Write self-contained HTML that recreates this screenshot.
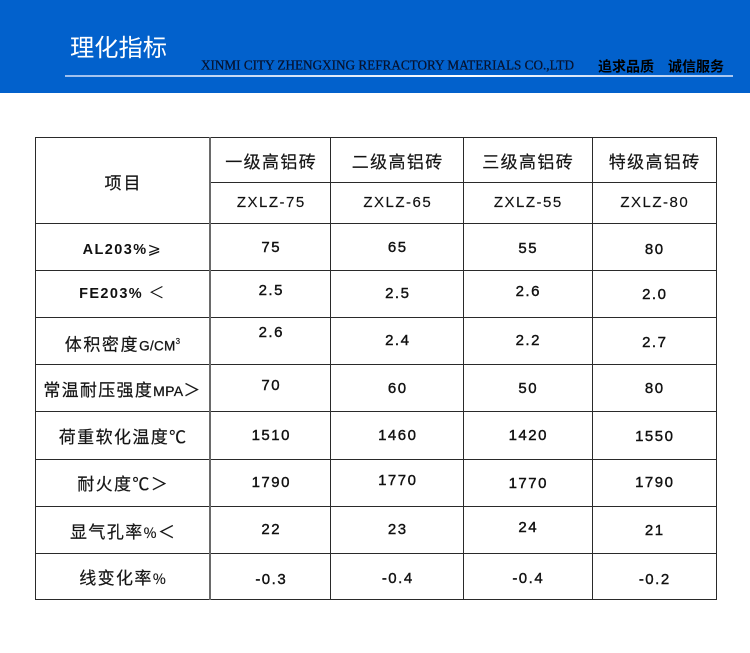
<!DOCTYPE html>
<html><head><meta charset="utf-8">
<style>
html,body{margin:0;padding:0;}
body{width:750px;height:653px;background:#fff;position:relative;overflow:hidden;font-family:"Liberation Sans","Noto Sans CJK SC",sans-serif;}
.hd{position:absolute;left:0;top:0;width:750px;height:93px;background:#0261cc;}
.h{position:absolute;background:#2a2a2a;height:1px;}
.v{position:absolute;background:#2a2a2a;width:1px;top:137px;height:463px;}
.t{position:absolute;height:20px;line-height:20px;text-align:center;white-space:nowrap;color:#111;}
.cn{font-family:"Noto Sans CJK SC","WenQuanYi Zen Hei",sans-serif;font-size:17px;letter-spacing:1.4px;text-indent:1.4px;color:#151515;-webkit-text-stroke:0.2px #151515;}
.num{font-family:"Liberation Sans",sans-serif;font-size:15px;letter-spacing:1.5px;text-indent:1.5px;-webkit-text-stroke:0.4px #111;}
.c0{left:35px;width:175px;}
.c1{left:210px;width:121px;}
.c2{left:331px;width:132px;}
.c3{left:463px;width:129px;}
.c4{left:592px;width:124px;}
.b{font-family:"Liberation Sans",sans-serif;font-weight:bold;font-size:14.5px;letter-spacing:1.4px;}
.s{font-family:"Liberation Sans",sans-serif;font-size:14px;letter-spacing:0.3px;-webkit-text-stroke:0.3px #151515;}
.w{font-family:"Noto Sans CJK SC",sans-serif;font-weight:normal;}
</style></head>
<body>
<div class="hd"></div>
<svg style="position:absolute;left:0;top:0" width="750" height="93" xmlns="http://www.w3.org/2000/svg">
  <defs>
    <linearGradient id="lg" x1="0" x2="1" y1="0" y2="0">
      <stop offset="0" stop-color="#9ebfee"/>
      <stop offset="0.6" stop-color="#ffffff"/>
      <stop offset="1" stop-color="#a8c6f0"/>
    </linearGradient>
  </defs>
  <text x="70" y="56" font-family="Noto Sans CJK SC, WenQuanYi Zen Hei, sans-serif" font-size="24" fill="#ffffff" textLength="97" lengthAdjust="spacingAndGlyphs">理化指标</text>
  <text x="201" y="69.5" font-family="Liberation Serif, serif" font-size="13.5" fill="#06122e" stroke="#06122e" stroke-width="0.25" textLength="373" lengthAdjust="spacingAndGlyphs">XINMI CITY ZHENGXING REFRACTORY MATERIALS CO.,LTD</text>
  <text x="598" y="71.5" font-family="Noto Sans CJK SC, WenQuanYi Zen Hei, sans-serif" font-size="14" font-weight="bold" fill="#000">追求品质</text>
  <text x="668" y="71.5" font-family="Noto Sans CJK SC, WenQuanYi Zen Hei, sans-serif" font-size="14" font-weight="bold" fill="#000">诚信服务</text>
  <rect x="65" y="75" width="668" height="2" fill="url(#lg)"/>
</svg>

<!-- grid -->
<div class="h" style="left:35px;width:682px;top:137px"></div>
<div class="h" style="left:210px;width:507px;top:182px"></div>
<div class="h" style="left:35px;width:682px;top:223px"></div>
<div class="h" style="left:35px;width:682px;top:270px"></div>
<div class="h" style="left:35px;width:682px;top:317px"></div>
<div class="h" style="left:35px;width:682px;top:364px"></div>
<div class="h" style="left:35px;width:682px;top:411px"></div>
<div class="h" style="left:35px;width:682px;top:459px"></div>
<div class="h" style="left:35px;width:682px;top:506px"></div>
<div class="h" style="left:35px;width:682px;top:553px"></div>
<div class="h" style="left:35px;width:682px;top:599px"></div>
<div class="v" style="left:35px"></div>
<div class="v" style="left:209px;width:2px;background:#6a6a6a"></div>
<div class="v" style="left:330px"></div>
<div class="v" style="left:463px"></div>
<div class="v" style="left:592px"></div>
<div class="v" style="left:716px"></div>

<!-- header -->
<div class="t cn c0" style="top:172px;letter-spacing:2px;text-indent:2px">项目</div>
<div class="t cn c1" style="top:151px">一级高铝砖</div>
<div class="t cn c2" style="top:151px">二级高铝砖</div>
<div class="t cn c3" style="top:151px">三级高铝砖</div>
<div class="t cn c4" style="top:151px">特级高铝砖</div>
<div class="t num c1" style="top:193px;-webkit-text-stroke:0.15px #111">ZXLZ-75</div>
<div class="t num c2" style="top:193px;-webkit-text-stroke:0.15px #111">ZXLZ-65</div>
<div class="t num c3" style="top:193px;-webkit-text-stroke:0.15px #111">ZXLZ-55</div>
<div class="t num c4" style="top:193px;-webkit-text-stroke:0.15px #111">ZXLZ-80</div>

<!-- labels -->
<div class="t c0 b" style="top:237px">AL203%<span class="w" style="font-size:16px">⩾</span></div>
<div class="t c0 b" style="top:281px">FE203% <span class="w" style="font-size:16px">＜</span></div>
<div class="t cn c0" style="top:332px;letter-spacing:1.6px">体积密度<span class="s" style="font-size:13.5px">G/CM</span><sup style="font-size:8px;font-family:'Liberation Sans',sans-serif">3</sup></div>
<div class="t cn c0" style="top:379px;letter-spacing:1.3px;text-indent:0">常温耐压强度<span class="s">MPA</span>＞</div>
<div class="t cn c0" style="top:426px">荷重软化温度℃</div>
<div class="t cn c0" style="top:473px">耐火度℃＞</div>
<div class="t cn c0" style="top:521px">显气孔率<span style="font-size:14px">%</span>＜</div>
<div class="t cn c0" style="top:567px">线变化率<span style="font-size:14px">%</span></div>

<!-- values -->
<div class="t num c1" style="top:238px">75</div>
<div class="t num c2" style="top:238px">65</div>
<div class="t num c3" style="top:239px">55</div>
<div class="t num c4" style="top:240px">80</div>

<div class="t num c1" style="top:281px">2.5</div>
<div class="t num c2" style="top:284px">2.5</div>
<div class="t num c3" style="top:282px">2.6</div>
<div class="t num c4" style="top:285px">2.0</div>

<div class="t num c1" style="top:323px">2.6</div>
<div class="t num c2" style="top:331px">2.4</div>
<div class="t num c3" style="top:331px">2.2</div>
<div class="t num c4" style="top:333px">2.7</div>

<div class="t num c1" style="top:376px">70</div>
<div class="t num c2" style="top:379px">60</div>
<div class="t num c3" style="top:379px">50</div>
<div class="t num c4" style="top:379px">80</div>

<div class="t num c1" style="top:426px">1510</div>
<div class="t num c2" style="top:426px">1460</div>
<div class="t num c3" style="top:426px">1420</div>
<div class="t num c4" style="top:427px">1550</div>

<div class="t num c1" style="top:473px">1790</div>
<div class="t num c2" style="top:471px">1770</div>
<div class="t num c3" style="top:474px">1770</div>
<div class="t num c4" style="top:473px">1790</div>

<div class="t num c1" style="top:520px">22</div>
<div class="t num c2" style="top:520px">23</div>
<div class="t num c3" style="top:518px">24</div>
<div class="t num c4" style="top:521px">21</div>

<div class="t num c1" style="top:570px">-0.3</div>
<div class="t num c2" style="top:569px">-0.4</div>
<div class="t num c3" style="top:569px">-0.4</div>
<div class="t num c4" style="top:570px">-0.2</div>
</body></html>
